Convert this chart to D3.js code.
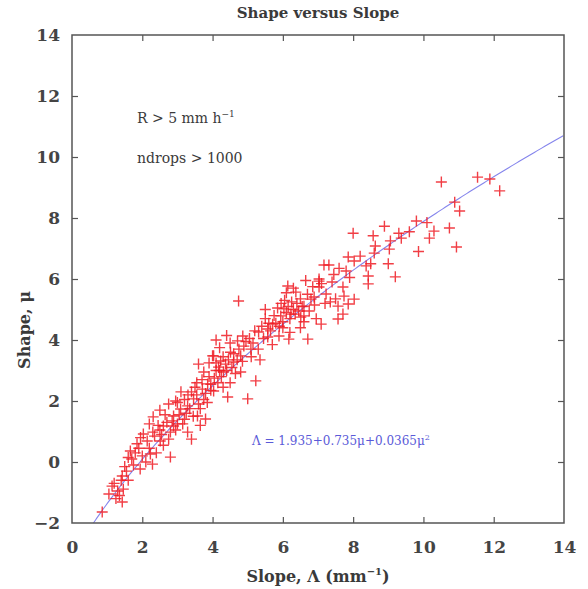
<!DOCTYPE html>
<html>
<head>
<meta charset="utf-8">
<script src="https://cdn.jsdelivr.net/npm/d3@7"></script>
<style>
  body { margin: 0; background: #fff; }
  svg { display: block; }
  text { font-family: "DejaVu Serif", serif; fill: #3a3a3a; }
</style>
</head>
<body>
<div id="chart"></div>
<script>
// slope (Lambda) and shape (mu) values
var slope = [0.86,1.43,1.14,1.46,1.3,1.2,1.43,1.6,1.35,1.55,1.94,1.75,2.29,1.66,1.8,1.9,2.23,2.8,2.14,2.51,2.6,2.03,2.3,2.8,3.29,2.5,3.0,2.6,2.89,2.31,2.89,3.57,3.8,3.2,3.09,3.29,3.0,3.46,3.6,3.3,3.71,4.03,3.86,4.43,5.0,5.23,3.5,3.7,3.9,4.17,4.31,4.0,3.6,4.1,4.23,4.37,4.6,4.51,4.8,4.03,4.71,4.86,4.89,5.09,4.5,5.31,5.57,5.57,5.89,6.17,6.71,5.71,5.94,6.03,6.23,6.51,7.09,7.57,7.71,6.6,6.6,7.57,7.86,6.89,7.23,7.74,8.03,6.8,6.14,6.37,7.03,7.03,7.71,7.03,4.74,8.43,8.43,9.2,7.8,8.37,7.17,7.31,7.86,8.03,9.03,8.63,9.06,8.57,8.0,8.89,9.37,9.86,10.17,10.3,10.74,10.94,9.8,11.03,10.89,10.51,11.54,11.89,12.17,
  1.05,1.25,1.5,1.7,1.85,1.6,2.0,2.1,1.4,1.95,2.2,2.4,
  2.35,2.45,2.55,2.7,2.65,2.75,2.85,2.95,3.05,2.2,2.5,2.95,2.75,
  3.15,3.25,3.35,3.4,3.45,3.55,3.65,3.75,3.8,3.85,3.95,3.1,3.2,3.55,3.75,3.9,3.95,3.65,3.4,
  4.05,4.1,4.15,4.2,4.25,4.3,4.4,4.45,4.55,4.6,4.65,4.7,4.75,4.85,4.95,4.3,4.5,4.8,4.2,4.4,4.1,
  5.05,5.15,5.2,5.3,5.4,5.45,5.5,5.6,5.65,5.75,5.8,5.85,5.9,5.95,5.1,5.35,5.7,5.5,
  6.0,6.05,6.1,6.15,6.2,6.25,6.3,6.35,6.4,6.45,6.5,6.55,6.6,6.7,6.1,6.3,6.0,6.5,6.9,6.75,6.2,6.85,6.65,6.95,
  7.2,7.4,7.5,7.45,7.6,7.9,7.1,7.35,
  8.2,8.6,9.3,9.6,10.1,8.5,9.0];
var shape = [-1.64,-1.31,-0.79,-0.89,-0.95,-0.7,-0.46,-0.6,-1.1,-0.3,-0.23,-0.1,-0.07,0.36,0.3,0.45,0.26,0.16,0.69,0.69,0.55,0.92,0.98,0.98,0.98,1.05,1.25,1.18,1.18,1.48,1.51,1.51,1.41,1.4,1.74,1.84,1.95,2.07,1.9,2.2,2.39,2.33,2.56,2.13,2.07,2.66,2.45,2.7,2.8,3.11,2.95,3.48,3.21,3.0,3.31,3.21,3.28,3.6,3.48,3.48,3.97,4.13,3.8,3.7,3.9,4.26,4.36,4.1,4.13,4.03,4.03,4.52,4.79,5.02,4.85,4.75,4.52,4.69,4.85,4.79,5.11,5.11,5.18,5.41,5.51,5.44,5.34,5.34,5.77,5.57,5.93,5.74,5.74,6.0,5.28,5.84,6.1,6.07,6.26,6.43,6.46,6.46,6.72,6.59,6.98,7.08,7.25,7.42,7.5,7.73,7.34,6.9,7.34,7.57,7.67,7.05,7.9,8.23,8.52,9.18,9.34,9.28,8.89,
  -1.05,-1.2,-0.15,0.1,0.6,0.15,0.2,0.0,-0.6,0.8,0.45,0.3,
  0.85,1.2,0.9,1.3,1.55,0.75,1.35,1.05,1.55,1.25,1.7,2.0,1.9,
  1.25,1.6,1.75,2.3,1.5,2.2,1.75,2.05,2.25,1.95,2.55,2.3,2.05,2.6,2.95,3.25,2.35,1.2,0.75,
  2.75,3.25,2.6,3.0,2.8,3.45,3.0,3.35,3.1,3.55,2.9,3.35,3.7,3.3,3.95,2.45,2.6,2.95,3.75,4.15,4.0,
  4.05,3.9,4.3,3.7,4.45,4.05,4.7,4.55,4.3,4.8,4.55,5.05,4.45,5.2,3.45,3.35,3.85,5.0,
  4.6,5.3,4.9,5.1,4.7,5.25,5.0,4.85,5.2,4.95,5.35,5.1,4.6,5.5,5.55,5.7,4.4,4.4,5.15,4.95,4.25,5.75,5.95,4.7,
  5.2,5.9,5.35,6.15,6.35,6.05,5.85,5.25,
  6.75,6.85,7.5,7.55,7.85,6.5,6.5];

var xTicks = [0, 2, 4, 6, 8, 10, 12, 14];
var yTicks = [-2, 0, 2, 4, 6, 8, 10, 12, 14];
// fit: Lambda = 1.935 + 0.735 mu + 0.0365 mu^2
var fitCoef = [1.935, 0.735, 0.0365];
var fitMu = d3.range(-2, 10.75, 0.05);

var width = 588, height = 589;
var padL = 72, padR = 564, padT = 35, padB = 523;

var svg = d3.select("#chart").append("svg")
  .attr("width", width)
  .attr("height", height);

var x = d3.scaleLinear().domain([0, 14]).range([padL, padR]);
var y = d3.scaleLinear().domain([-2, 14]).range([padB, padT]);

// fit line
var fitPts = fitMu.map(function(m){
  return [fitCoef[0] + fitCoef[1]*m + fitCoef[2]*m*m, m];
}).filter(function(p){ return p[0] <= 14; });

svg.append("path")
  .datum(fitPts)
  .attr("fill", "none")
  .attr("stroke", "#8585ec")
  .attr("stroke-width", 1.1)
  .attr("d", d3.line().x(function(d){ return x(d[0]); }).y(function(d){ return y(d[1]); }));

// plus markers
var pts = slope.map(function(s, i){ return [s, shape[i]]; });
var r = 5.5;
svg.append("g").selectAll("path")
  .data(pts)
  .enter().append("path")
  .attr("d", function(d){
    var cx = x(d[0]), cy = y(d[1]);
    return "M" + (cx - r) + "," + cy + "H" + (cx + r) + "M" + cx + "," + (cy - r) + "V" + (cy + r);
  })
  .attr("stroke", "#ee1c24")
  .attr("stroke-opacity", 0.85)
  .attr("stroke-width", 1.4);

// axes (ticks inward on all four sides)
function styleAxis(g){
  g.select(".domain").remove();
  g.selectAll(".tick line").attr("stroke", "#555").attr("stroke-width", 1.2);
  g.selectAll(".tick text")
    .style("font-family", "DejaVu Serif, serif")
    .style("font-size", "17px")
    .style("font-weight", "bold")
    .style("fill", "#444");
}

var gb = svg.append("g").attr("transform", "translate(0," + padB + ")")
  .call(d3.axisBottom(x).tickValues(xTicks).tickSize(-6).tickPadding(18).tickFormat(d3.format("d")));
styleAxis(gb);
gb.selectAll(".tick").filter(function(d){ return d == 0 || d == 14; }).select("line").remove();

var gt = svg.append("g").attr("transform", "translate(0," + padT + ")")
  .call(d3.axisTop(x).tickValues(xTicks).tickSize(-6).tickFormat(""));
styleAxis(gt);
gt.selectAll(".tick").filter(function(d){ return d == 0 || d == 14; }).select("line").remove();

var gl = svg.append("g").attr("transform", "translate(" + padL + ",0)")
  .call(d3.axisLeft(y).tickValues(yTicks).tickSize(-6).tickPadding(12).tickFormat(function(d){ return d < 0 ? "\u2212" + (-d) : d; }));
styleAxis(gl);
gl.selectAll(".tick").filter(function(d){ return d == -2 || d == 14; }).select("line").remove();

var gr = svg.append("g").attr("transform", "translate(" + padR + ",0)")
  .call(d3.axisRight(y).tickValues(yTicks).tickSize(-6).tickFormat(""));
styleAxis(gr);
gr.selectAll(".tick").filter(function(d){ return d == -2 || d == 14; }).select("line").remove();

// frame
svg.append("rect")
  .attr("x", padL).attr("y", padT)
  .attr("width", padR - padL).attr("height", padB - padT)
  .attr("fill", "none")
  .attr("stroke", "#555")
  .attr("stroke-width", 1.5);

// title and labels
svg.append("text")
  .attr("x", 318).attr("y", 18)
  .attr("text-anchor", "middle")
  .style("font-size", "15px")
  .style("font-weight", "bold")
  .text("Shape versus Slope");

var xl = svg.append("text")
  .attr("x", 318).attr("y", 582)
  .attr("text-anchor", "middle")
  .style("font-size", "16px")
  .style("font-weight", "bold");
xl.append("tspan").text("Slope, \u039B (mm");
xl.append("tspan").attr("dy", -7).style("font-size", "10px").text("\u22121");
xl.append("tspan").attr("dy", 7).text(")");

svg.append("text")
  .attr("transform", "translate(30,330) rotate(-90)")
  .attr("text-anchor", "middle")
  .style("font-size", "16px")
  .style("font-weight", "bold")
  .text("Shape, \u03BC");

var t1 = svg.append("text")
  .attr("x", 137).attr("y", 123)
  .style("font-size", "14px");
t1.append("tspan").text("R > 5 mm h");
t1.append("tspan").attr("dy", -6).style("font-size", "9px").text("\u22121");

svg.append("text")
  .attr("x", 137).attr("y", 163)
  .style("font-size", "14px")
  .text("ndrops > 1000");

var eq = svg.append("text")
  .attr("x", 252).attr("y", 445)
  .style("font-size", "12px")
  .style("fill", "#5a5ad8");
eq.append("tspan").text("\u039B = 1.935+0.735\u03BC+0.0365\u03BC");
eq.append("tspan").attr("dy", -5).style("font-size", "8px").text("2");
</script>
</body>
</html>
